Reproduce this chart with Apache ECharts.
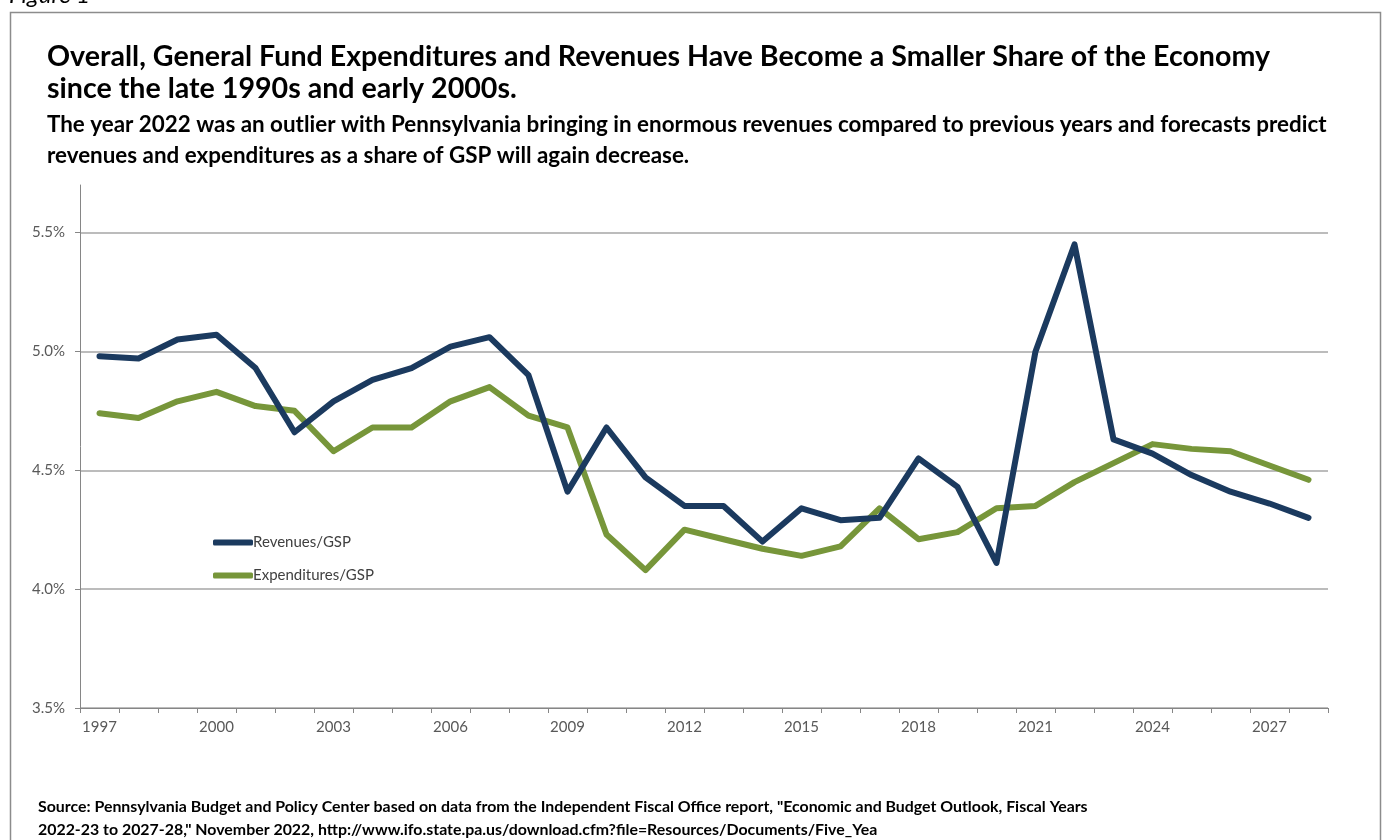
<!DOCTYPE html>
<html>
<head>
<meta charset="utf-8">
<script src="https://cdn.jsdelivr.net/npm/echarts@6/dist/echarts.min.js"></script>
<style>
  html, body { margin: 0; padding: 0; background: #fff; }
  #chart { width: 1383px; height: 840px; }
</style>
</head>
<body>
<div id="chart"></div>
<script>
// Fiscal years shown on the category axis
const years = ['1997','1998','1999','2000','2001','2002','2003','2004','2005','2006','2007','2008',
  '2009','2010','2011','2012','2013','2014','2015','2016','2017','2018','2019','2020',
  '2021','2022','2023','2024','2025','2026','2027','2028'];

// General Fund revenues as a percent of Gross State Product
const revenuesGSP = [4.98, 4.97, 5.05, 5.07, 4.93, 4.66, 4.79, 4.88, 4.93, 5.02, 5.06, 4.90,
  4.41, 4.68, 4.47, 4.35, 4.35, 4.20, 4.34, 4.29, 4.30, 4.55, 4.43, 4.11,
  5.00, 5.45, 4.63, 4.57, 4.48, 4.41, 4.36, 4.30];

// General Fund expenditures as a percent of Gross State Product
const expendituresGSP = [4.74, 4.72, 4.79, 4.83, 4.77, 4.75, 4.58, 4.68, 4.68, 4.79, 4.85, 4.73,
  4.68, 4.23, 4.08, 4.25, 4.21, 4.17, 4.14, 4.18, 4.34, 4.21, 4.24, 4.34,
  4.35, 4.45, 4.53, 4.61, 4.59, 4.58, 4.52, 4.46];

// Labelled values on the percent axis
const yTicks = [3.5, 4.0, 4.5, 5.0, 5.5];

const FONT = 'Lato, "Open Sans", sans-serif';
const NAVY = '#1B3A5F';
const GREEN = '#77963A';

const chart = echarts.init(document.getElementById('chart'), null, { renderer: 'canvas' });

chart.setOption({
  backgroundColor: '#ffffff',
  animation: false,
  textStyle: { fontFamily: FONT },
  title: [
    {
      text: 'Overall, General Fund Expenditures and Revenues Have Become a Smaller Share of the Economy\nsince the late 1990s and early 2000s.',
      left: 47, top: 41, padding: 0,
      textStyle: { fontFamily: FONT, fontSize: 28.6, fontWeight: 'bold', color: '#000', lineHeight: 32 }
    },
    {
      text: 'The year 2022 was an outlier with Pennsylvania bringing in enormous revenues compared to previous years and forecasts predict\nrevenues and expenditures as a share of GSP will again decrease.',
      left: 47, top: 109, padding: 0,
      textStyle: { fontFamily: FONT, fontSize: 22.4, fontWeight: 'bold', color: '#000', lineHeight: 31 }
    },
    {
      text: 'Source: Pennsylvania Budget and Policy Center based on data from the Independent Fiscal Office report, "Economic and Budget Outlook, Fiscal Years\n2022-23 to 2027-28," November 2022, http://www.ifo.state.pa.us/download.cfm?file=Resources/Documents/Five_Yea',
      left: 38, top: 795, padding: 0,
      textStyle: { fontFamily: FONT, fontSize: 15.9, fontWeight: 'bold', color: '#000', lineHeight: 23 }
    }
  ],
  graphic: [
    {
      type: 'rect', left: 8, top: 10, silent: true,
      shape: { width: 1370, height: 840 },
      style: { fill: 'none', stroke: '#8c8c8c', lineWidth: 1.5 }
    },
    {
      type: 'text', left: 9, top: -17, silent: true,
      style: { text: 'Figure 1', font: 'italic 24px ' + FONT, fill: '#000' }
    }
  ],
  legend: {
    orient: 'vertical',
    left: 208, top: 530,
    itemWidth: 40, itemHeight: 6,
    itemGap: 18,
    icon: 'roundRect',
    textStyle: { fontFamily: FONT, fontSize: 15, color: '#404040', padding: [0, 0, 0, -5] },
    data: ['Revenues/GSP', 'Expenditures/GSP']
  },
  grid: { left: 80, right: 55, top: 185, bottom: 132, containLabel: false },
  xAxis: {
    type: 'category',
    data: years,
    boundaryGap: true,
    axisLine: { lineStyle: { color: '#868686', width: 1 } },
    axisTick: { show: true, interval: 0, length: 5, lineStyle: { color: '#868686' } },
    axisLabel: { interval: 2, margin: 12, fontFamily: FONT, fontSize: 15, color: '#595959' },
    splitLine: { show: false }
  },
  yAxis: {
    type: 'value',
    min: 3.5, max: 5.7,
    axisLine: { show: true, lineStyle: { color: '#868686', width: 1 } },
    axisTick: { show: true, length: 5, customValues: yTicks, lineStyle: { color: '#868686' } },
    axisLabel: {
      customValues: yTicks, margin: 15,
      fontFamily: FONT, fontSize: 15, color: '#595959',
      formatter: v => v.toFixed(1) + '%'
    },
    splitLine: { show: true, lineStyle: { color: '#a6a6a6', width: 1.5 } }
  },
  series: [
    {
      name: 'Revenues/GSP', type: 'line', data: revenuesGSP,
      symbol: 'none', smooth: false,
      lineStyle: { color: NAVY, width: 6, cap: 'round', join: 'round' },
      itemStyle: { color: NAVY }, z: 3
    },
    {
      name: 'Expenditures/GSP', type: 'line', data: expendituresGSP,
      symbol: 'none', smooth: false,
      lineStyle: { color: GREEN, width: 6, cap: 'round', join: 'round' },
      itemStyle: { color: GREEN }, z: 2
    }
  ]
});
</script>
</body>
</html>
